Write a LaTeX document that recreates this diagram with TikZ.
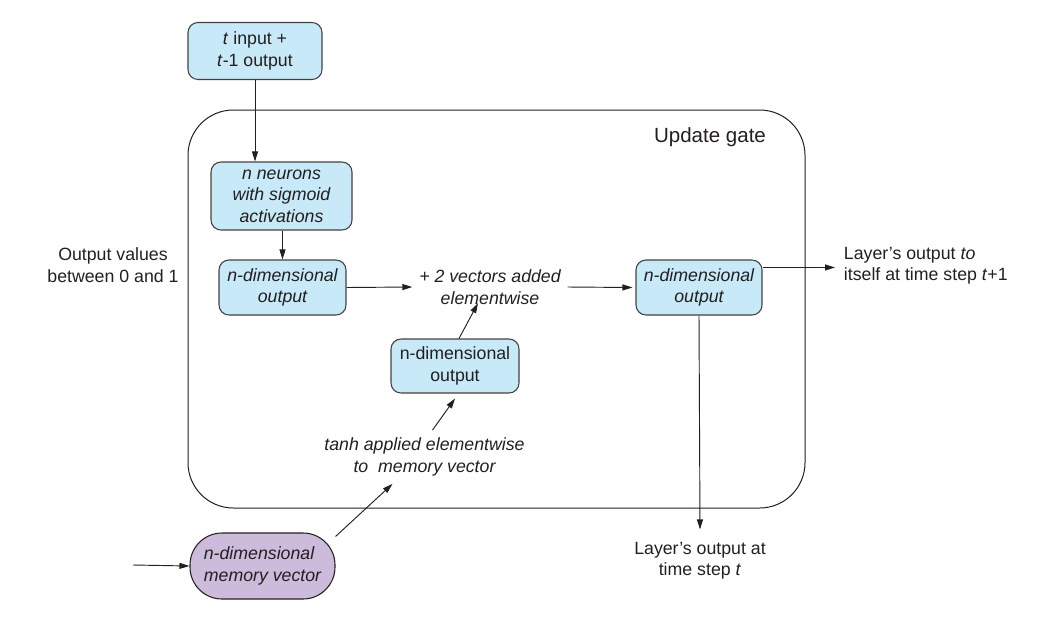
\documentclass[tikz,border=0pt]{standalone}
\usepackage{fontspec}
\setmainfont{Liberation Sans}
\usetikzlibrary{arrows.meta,calc}
\definecolor{boxblue}{HTML}{C7E9F8}
\definecolor{boxpurple}{HTML}{CDBBDB}
\definecolor{ink}{HTML}{231F20}
\begin{document}
\begin{tikzpicture}[x=0.75pt,y=-0.75pt,
  txt/.style={font=\fontsize{13.3}{16}\selectfont, text=ink, align=center, inner sep=2pt},
  bluebox/.style={txt, draw=ink!85, line width=0.8pt, fill=boxblue, rounded corners=7.5pt},
  arr/.style={-{Triangle[length=7.5pt,width=4.5pt]}, draw=ink, line width=0.7pt}]
\useasboundingbox (0,0) rectangle (1063,625);
% update gate frame
\draw[draw=ink, line width=0.75pt, rounded corners=34pt] (188,110) rectangle (805,508);
\node[txt, font=\fontsize{15.4}{18}\selectfont] (gate) at (710,137) {Update gate};
% boxes
\node[bluebox, minimum width=100.5pt, minimum height=42.75pt] (inp) at (255,51) {\textit{t} input +\\\textit{t}-1 output};
\node[bluebox, minimum width=105.75pt, minimum height=51pt] (neu) at (281.5,196) {\itshape n neurons\\\itshape with sigmoid\\\itshape activations};
\node[bluebox, minimum width=95.25pt, minimum height=41.25pt] (out1) at (282.5,287.5) {\itshape n-dimensional\\\itshape output};
\node[bluebox, minimum width=94.5pt, minimum height=41.25pt] (out3) at (699,287.5) {\itshape n-dimensional\\\itshape output};
\node[bluebox, minimum width=96pt, minimum height=40.5pt] (mid) at (455,366) {n-dimensional\\output};
\node[txt, align=left, draw=ink, line width=0.8pt, fill=boxpurple, rounded corners=24pt, minimum width=108.75pt, minimum height=49.5pt] (mem) at (262.5,566) {\itshape n-dimensional\\\itshape memory vector};
% texts
\node[txt] (plus) at (490,287) {\itshape + 2 vectors added\\\itshape elementwise};
\node[txt] (tanh) at (424.5,457) {\itshape tanh applied elementwise\\\itshape to\ \ memory vector};
\node[txt] (vals) at (113,265) {Output values\\between 0 and 1};
\node[txt, align=left, anchor=west] (self) at (841,266) {Layer’s output \textit{to}\\itself at time step \textit{t}+1};
\node[txt] (outt) at (700,561) {Layer’s output at\\time step \textit{t}};
\coordinate (src) at (133,565);
% connectors
\draw[arr] (inp.south) -- (inp.south |- neu.north);
\draw[arr] (neu.south -| out1.north) -- (out1.north);
\draw[arr] (out1.east) -- ($(plus.west)+(-4,0)$);
\draw[arr] ($(plus.east)+(4,0)$) -- ($(out3.west)+(-3,0)$);
\draw[arr] ($(mid.north)+(4,0)$) -- ($(plus.south)+(-12,-4)$);
\draw[arr] ($(tanh.north)+(8,-5)$) -- ($(mid.south)+(0,5)$);
\draw[arr] (mem.22) -- ($(tanh.south)+(-32,5)$);
\draw[arr] ($(out3.north east)+(0,8)$) -- ($(self.west |- out3.north)+(-6,8)$);
\draw[arr] (out3.south) -- ($(outt.north)+(0,-10)$);
\draw[arr] (src) -- (mem.west);
\end{tikzpicture}
\end{document}
